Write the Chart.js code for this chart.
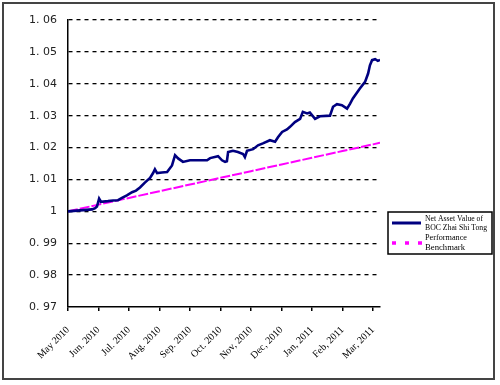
<!DOCTYPE html>
<html>
<head>
<meta charset="utf-8">
<script src="https://cdn.jsdelivr.net/npm/chart.js@4.4.0/dist/chart.umd.min.js"></script>
<style>
  html, body { margin: 0; padding: 0; background: #fff; }
  #wrap { width: 500px; height: 385px; position: relative; }
</style>
</head>
<body>
<div id="wrap"><canvas id="navChart"></canvas></div>
<script>
// month ticks (0 = May 2010 ... 10 = Mar 2011)
const monthTicks = [0, 1, 2, 3, 4, 5, 6, 7, 8, 9, 10];
const monthLabels = ['May 2010', 'Jun. 2010', 'Jul. 2010', 'Aug. 2010', 'Sep. 2010', 'Oct. 2010',
                     'Nov, 2010', 'Dec, 2010', 'Jan, 2011', 'Feb, 2011', 'Mar, 2011'];

const yTickValues = [0.97, 0.98, 0.99, 1.00, 1.01, 1.02, 1.03, 1.04, 1.05, 1.06];
const yTickLabels = ['0. 97', '0. 98', '0. 99', '1', '1. 01', '1. 02', '1. 03', '1. 04', '1. 05', '1. 06'];

// Net asset value (x in months since start of May 2010)
const navMonth = [0.00, 0.39, 0.79, 0.89, 0.95, 1.02, 1.08, 1.31, 1.48, 1.64, 1.77, 1.93, 2.10, 2.23, 2.36,
                  2.52, 2.69, 2.79, 2.85, 2.92, 3.08, 3.25, 3.41, 3.51, 3.61, 3.77, 4.00, 4.33, 4.56, 4.66,
                  4.92, 5.05, 5.15, 5.21, 5.25, 5.41, 5.57, 5.74, 5.80, 5.87, 6.07, 6.23, 6.39, 6.62, 6.79,
                  6.89, 7.02, 7.18, 7.28, 7.44, 7.61, 7.70, 7.84, 7.93, 8.10, 8.26, 8.59, 8.69, 8.82, 8.98,
                  9.15, 9.25, 9.34, 9.57, 9.74, 9.84, 9.90, 9.97, 10.07, 10.16, 10.23];
const navValue = [1.0000, 1.0003, 1.0006, 1.0010, 1.0015, 1.0040, 1.0030, 1.0032, 1.0034, 1.0035, 1.0042,
                  1.0050, 1.0060, 1.0065, 1.0075, 1.0090, 1.0105, 1.0120, 1.0132, 1.0120, 1.0122, 1.0123,
                  1.0144, 1.0176, 1.0166, 1.0155, 1.0160, 1.0160, 1.0160, 1.0167, 1.0173, 1.0160, 1.0155,
                  1.0157, 1.0186, 1.0190, 1.0186, 1.0180, 1.0170, 1.0190, 1.0195, 1.0207, 1.0213, 1.0223,
                  1.0218, 1.0233, 1.0249, 1.0257, 1.0265, 1.0280, 1.0290, 1.0312, 1.0307, 1.0310, 1.0290,
                  1.0298, 1.0300, 1.0328, 1.0336, 1.0333, 1.0322, 1.0338, 1.0354, 1.0385, 1.0406, 1.0432,
                  1.0458, 1.0474, 1.0477, 1.0472, 1.0475];

// Performance benchmark
const benchMonth = [0, 1, 2, 3, 4, 5, 6, 7, 8, 9, 10, 10.23];
const benchValue = [1.0000, 1.0021, 1.0042, 1.0063, 1.0084, 1.0105, 1.0126, 1.0147, 1.0168, 1.0189, 1.0210, 1.0215];

const navLegend = ['Net Asset Value of', 'BOC Zhai Shi Tong'];
const benchLegend = ['Performance', 'Benchmark'];

function toPoints(xs, ys) {
  return xs.map(function(x, i) { return { x: x, y: ys[i] }; });
}

// box legend + outer frame
const frameLegend = {
  id: 'frameLegend',
  beforeDraw(chart) {
    const c = chart.ctx;
    c.save();
    c.fillStyle = '#fff';
    c.fillRect(0, 0, chart.width, chart.height);
    c.restore();
  },
  afterDraw(chart) {
    const c = chart.ctx;
    const ds = chart.data.datasets;
    c.save();
    // outer frame
    c.strokeStyle = '#444';
    c.lineWidth = 2;
    c.strokeRect(3, 3, 491, 376);

    // legend box
    c.fillStyle = '#fff';
    c.fillRect(388, 212, 104, 42);
    c.strokeStyle = '#000';
    c.lineWidth = 1.5;
    c.strokeRect(388, 212, 104, 42);

    c.lineWidth = 3;
    c.strokeStyle = ds[0].borderColor;
    c.beginPath(); c.moveTo(392, 223); c.lineTo(421, 223); c.stroke();

    c.lineWidth = 3.5;
    c.strokeStyle = ds[1].borderColor;
    c.setLineDash([4, 9]);
    c.beginPath(); c.moveTo(392, 243); c.lineTo(422, 243); c.stroke();
    c.setLineDash([]);

    c.fillStyle = '#000';
    c.font = '9px "Liberation Serif"';
    c.textBaseline = 'middle';
    c.fillText(navLegend[0], 425, 219, 58);
    c.fillText(navLegend[1], 425, 228, 62);
    c.fillText(benchLegend[0], 425, 238, 42);
    c.fillText(benchLegend[1], 425, 248, 40);
    c.restore();
  }
};

new Chart(document.getElementById('navChart'), {
  type: 'line',
  data: {
    datasets: [{
      label: navLegend.join(' '),
      data: toPoints(navMonth, navValue),
      borderColor: '#000080',
      borderWidth: 2.6,
      pointRadius: 0,
      tension: 0
    }, {
      label: benchLegend.join(' '),
      data: toPoints(benchMonth, benchValue),
      borderColor: '#ff00ff',
      borderWidth: 2,
      borderDash: [10, 2],
      pointRadius: 0,
      tension: 0
    }]
  },
  options: {
    responsive: true,
    maintainAspectRatio: false,
    animation: false,
    layout: { padding: { left: 0, top: 20, right: 120, bottom: 0 } },
    plugins: {
      legend: { display: false },
      tooltip: { enabled: false }
    },
    scales: {
      x: {
        type: 'linear',
        min: 0,
        max: 10.23,
        afterBuildTicks: function(scale) {
          scale.ticks = monthTicks.map(function(v) { return { value: v }; });
        },
        afterFit: function(scale) { scale.height = 78; },
        grid: {
          drawOnChartArea: false,
          drawTicks: true,
          tickLength: 4,
          color: '#000',
          lineWidth: 1.5
        },
        border: { display: true, color: '#000', width: 1.5 },
        ticks: {
          autoSkip: false,
          minRotation: 45,
          maxRotation: 45,
          padding: 13,
          color: '#000',
          font: { family: '"Liberation Serif"', size: 10 },
          callback: function(value, index) { return monthLabels[index]; }
        }
      },
      y: {
        min: 0.97,
        max: 1.06,
        afterBuildTicks: function(scale) {
          scale.ticks = yTickValues.map(function(v) { return { value: v }; });
        },
        afterFit: function(scale) { scale.width = 68; },
        grid: {
          drawTicks: false,
          color: function(ctx) { return ctx.index === 0 ? 'rgba(0,0,0,0)' : '#000'; },
          lineWidth: 1.3
        },
        border: { display: true, color: '#000', width: 1.5, dash: [4, 4] },
        ticks: {
          padding: 11,
          color: '#222',
          font: { family: '"DejaVu Sans"', size: 11 },
          callback: function(value, index) { return yTickLabels[index]; }
        }
      }
    }
  },
  plugins: [frameLegend]
});
</script>
</body>
</html>
